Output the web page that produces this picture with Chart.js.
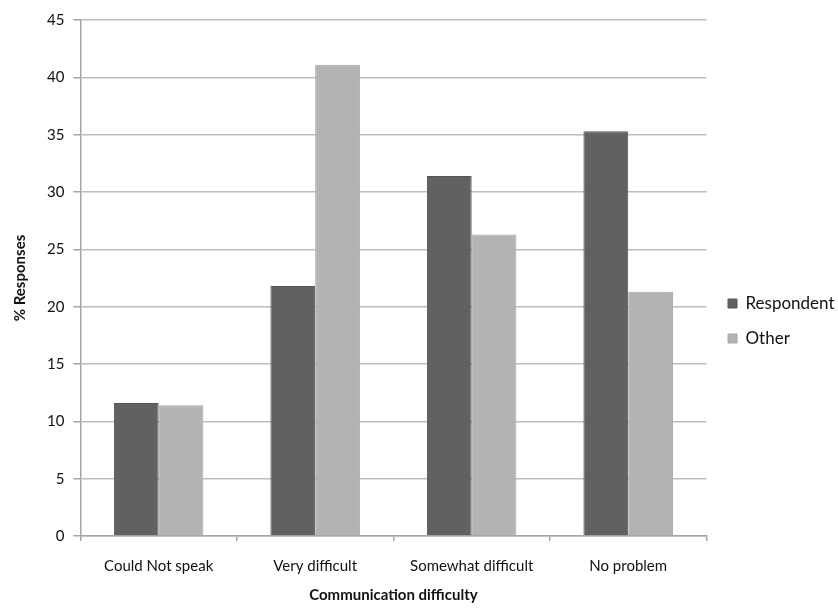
<!DOCTYPE html>
<html>
<head>
<meta charset="utf-8">
<script src="https://cdn.jsdelivr.net/npm/chart.js@4.4.1/dist/chart.umd.min.js"></script>
<style>
  html, body { margin: 0; padding: 0; background: #fff; }
  #wrap { width: 838px; height: 612px; position: relative; }
</style>
</head>
<body>
<div id="wrap"><canvas id="chart"></canvas></div>
<script>
const categories = ['Could Not speak', 'Very difficult', 'Somewhat difficult', 'No problem'];
const respondentValues = [11.6, 21.8, 31.4, 35.3];
const otherValues = [11.4, 41.1, 26.3, 21.3];
const yTicks = [0, 5, 10, 15, 20, 25, 30, 35, 40, 45];

const FONT = 'Lato, "Open Sans", sans-serif';
const TEXT = '#111';

// put the legend block where it sits in the picture
const legendShift = {
    id: 'legendShift',
    afterLayout(chart) {
        const lg = chart.legend;
        if (!lg) return;
        const w = lg.right - lg.left;
        lg.left = 728 - lg.options.labels.padding;
        lg.right = lg.left + w;
        lg.top += 9; lg.bottom += 9;
    }
};

new Chart(document.getElementById('chart').getContext('2d'), {
    type: 'bar',
    data: {
        labels: categories,
        datasets: [
            { label: 'Respondent', data: respondentValues, backgroundColor: '#616161', borderColor: '#555', borderWidth: 1 },
            { label: 'Other', data: otherValues, backgroundColor: '#b3b3b3', borderColor: '#a8a8a8', borderWidth: 1 }
        ]
    },
    options: {
        responsive: true,
        maintainAspectRatio: false,
        animation: false,
        layout: { padding: { top: 20, right: -3, bottom: 8, left: 7 } },
        datasets: { bar: { categoryPercentage: 0.572, barPercentage: 1.0 } },
        plugins: {
            legend: {
                position: 'right',
                labels: {
                    boxWidth: 9, boxHeight: 9, padding: 18,
                    color: TEXT, font: { family: FONT, size: 17 }
                }
            },
            tooltip: { enabled: false }
        },
        scales: {
            x: {
                grid: { drawOnChartArea: false, drawTicks: true, tickLength: 5, offset: true, color: '#a6a6a6', lineWidth: 1.5 },
                border: { color: '#a6a6a6', width: 1.5 },
                ticks: { color: TEXT, font: { family: FONT, size: 15 }, padding: 16, maxRotation: 0 },
                title: { display: true, text: 'Communication difficulty', color: TEXT, font: { family: FONT, size: 15, weight: 'bold' }, padding: { top: -5, bottom: 0 } }
            },
            y: {
                min: 0, max: 45,
                afterBuildTicks: axis => { axis.ticks = yTicks.map(v => ({ value: v })); },
                grid: { color: '#bdbdbd', lineWidth: 1.5, drawTicks: true, tickLength: 7, tickColor: '#a6a6a6' },
                border: { color: '#a6a6a6', width: 1.5 },
                ticks: { color: TEXT, font: { family: FONT, size: 15 }, padding: 9 },
                title: { display: true, text: '% Responses', color: TEXT, font: { family: FONT, size: 15, weight: 'bold' }, padding: { bottom: 9 } }
            }
        }
    },
    plugins: [legendShift]
});
</script>
</body>
</html>
